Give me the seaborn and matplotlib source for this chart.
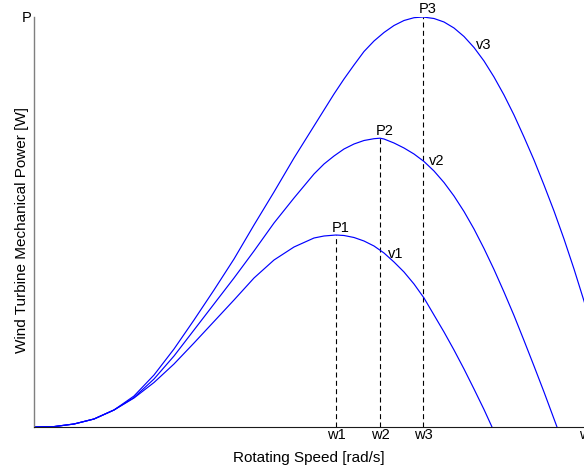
import matplotlib
matplotlib.use("Agg")
import matplotlib.pyplot as plt
import pandas as pd
import seaborn as sns

# ---- data (arbitrary units: speed, power) ----
speed_v1 = [0, 0.2, 0.4, 0.6, 0.8, 1.0, 1.2, 1.4, 1.6, 1.8, 2.0, 2.2, 2.4, 2.6,
            2.8, 2.9, 3.02, 3.1, 3.2, 3.3, 3.4, 3.5, 3.6, 3.7, 3.8, 3.9, 4.0,
            4.1, 4.2, 4.3, 4.4, 4.5, 4.58]
power_v1 = [0, 0.004, 0.03, 0.08, 0.17, 0.29, 0.445, 0.63, 0.84, 1.055, 1.27,
            1.49, 1.67, 1.80, 1.89, 1.91, 1.92, 1.915, 1.895, 1.86, 1.81, 1.74,
            1.65, 1.55, 1.43, 1.29, 1.12, 0.95, 0.77, 0.58, 0.38, 0.175, 0]

speed_v2 = [0, 0.2, 0.4, 0.6, 0.8, 1.0, 1.2, 1.4, 1.6, 1.8, 2.0, 2.2, 2.4, 2.6,
            2.7, 2.8, 2.9, 3.0, 3.1, 3.2, 3.3, 3.4, 3.46, 3.5, 3.6, 3.7, 3.8,
            3.9, 4.0, 4.1, 4.2, 4.3, 4.4, 4.5, 4.6, 4.7, 4.8, 4.9, 5.0, 5.1, 5.23]
power_v2 = [0, 0.004, 0.03, 0.08, 0.17, 0.295, 0.48, 0.71, 0.97, 1.23, 1.49,
            1.76, 2.04, 2.29, 2.41, 2.53, 2.63, 2.71, 2.78, 2.83, 2.865, 2.883,
            2.888, 2.88, 2.84, 2.79, 2.73, 2.655, 2.56, 2.445, 2.31, 2.155,
            1.98, 1.785, 1.575, 1.35, 1.115, 0.865, 0.61, 0.35, 0]

speed_v3 = [0, 0.2, 0.4, 0.6, 0.8, 1.0, 1.2, 1.4, 1.6, 1.8, 2.0, 2.2, 2.4, 2.6,
            2.8, 3.0, 3.1, 3.2, 3.3, 3.4, 3.5, 3.6, 3.7, 3.8, 3.89, 4.0, 4.1,
            4.2, 4.3, 4.4, 4.5, 4.6, 4.7, 4.8, 4.9, 5.0, 5.1, 5.2, 5.3, 5.4,
            5.5, 5.6, 5.7, 5.8, 5.88]
power_v3 = [0, 0.004, 0.03, 0.08, 0.17, 0.31, 0.52, 0.78, 1.07, 1.37, 1.68,
            2.02, 2.35, 2.69, 3.01, 3.33, 3.48, 3.62, 3.755, 3.86, 3.945, 4.015,
            4.065, 4.093, 4.10, 4.085, 4.05, 3.99, 3.905, 3.795, 3.66, 3.50,
            3.32, 3.12, 2.90, 2.67, 2.42, 2.16, 1.88, 1.58, 1.26, 0.94, 0.61,
            0.27, 0]

curve_names = ["v1", "v2", "v3"]
peak_speeds = [3.02, 3.46, 3.89]
peak_powers = [1.92, 2.888, 4.10]
peak_names = ["P1", "P2", "P3"]
xtick_values = [3.02, 3.46, 3.89, 5.54]
xtick_names = ["w1", "w2", "w3", "w4"]
ytick_values = [4.10]
ytick_names = ["P"]

frames = []
for name, s, p in zip(curve_names, [speed_v1, speed_v2, speed_v3],
                      [power_v1, power_v2, power_v3]):
    frames.append(pd.DataFrame({"speed": s, "power": p, "curve": name}))
df = pd.concat(frames, ignore_index=True)

# ---- style ----
sns.set_theme(style="white")
plt.rcParams["font.family"] = ["Liberation Sans", "DejaVu Sans"]
plt.rcParams["text.color"] = "black"

W, H = 584, 474
ax_l, ax_r, ax_t, ax_b = 34, 640, 17, 427
fig = plt.figure(figsize=(W / 100, H / 100), dpi=100)
ax = fig.add_axes([ax_l / W, 1 - ax_b / H, (ax_r - ax_l) / W, (ax_b - ax_t) / H])

sns.lineplot(data=df, x="speed", y="power", hue="curve",
             palette=["#0000ff"] * 3, estimator=None, sort=False,
             legend=False, linewidth=0.85, ax=ax)

# dashed guides from axis to each peak
for ws, ps in zip(peak_speeds, peak_powers):
    ax.plot([ws, ws], [0, ps], color="black", linewidth=0.8,
            dashes=(4.5, 3.0), zorder=1)

ax.set_xlim(0, (ax_r - ax_l) / 100)
ax.set_ylim(0, max(peak_powers))

ax.set_xticks(xtick_values)
ax.set_xticklabels(xtick_names)
ax.set_yticks(ytick_values)
ax.set_yticklabels(ytick_names)
ax.tick_params(axis="x", direction="in", length=3.8, width=0.8, pad=0.5,
               labelsize=10.5, colors="black")
ax.tick_params(axis="y", direction="in", length=3.8, width=0.8, pad=2,
               labelsize=10.5, colors="black")

for side in ["top", "right"]:
    ax.spines[side].set_visible(False)
ax.spines["left"].set_color("#7f7f7f")
ax.spines["left"].set_linewidth(1.0)
ax.spines["bottom"].set_color("#1a1a1a")
ax.spines["bottom"].set_linewidth(0.8)

# peak labels and wind speed labels
for ws, ps, name in zip(peak_speeds, peak_powers, peak_names):
    ax.text(ws - 0.045, ps + 0.035, name, fontsize=10.5, ha="left",
            va="baseline", clip_on=False)
v_label_pos = [(3.54, 1.69), (3.95, 2.62), (4.42, 3.78)]
for (tx, ty), name in zip(v_label_pos, curve_names):
    ax.text(tx, ty, name, fontsize=10.5, ha="left", va="baseline")

ax.set_xlabel("Rotating Speed [rad/s]", fontsize=11, color="black")
ax.set_ylabel("Wind Turbine Mechanical Power [W]", fontsize=11, color="black")
ax.xaxis.set_label_coords((309 - ax_l) / (ax_r - ax_l), -(451 - ax_b) / (ax_b - ax_t))
ax.yaxis.set_label_coords(-(ax_l - 29) / (ax_r - ax_l), (ax_b - 230) / (ax_b - ax_t))

fig.savefig("out.png", dpi=100)
